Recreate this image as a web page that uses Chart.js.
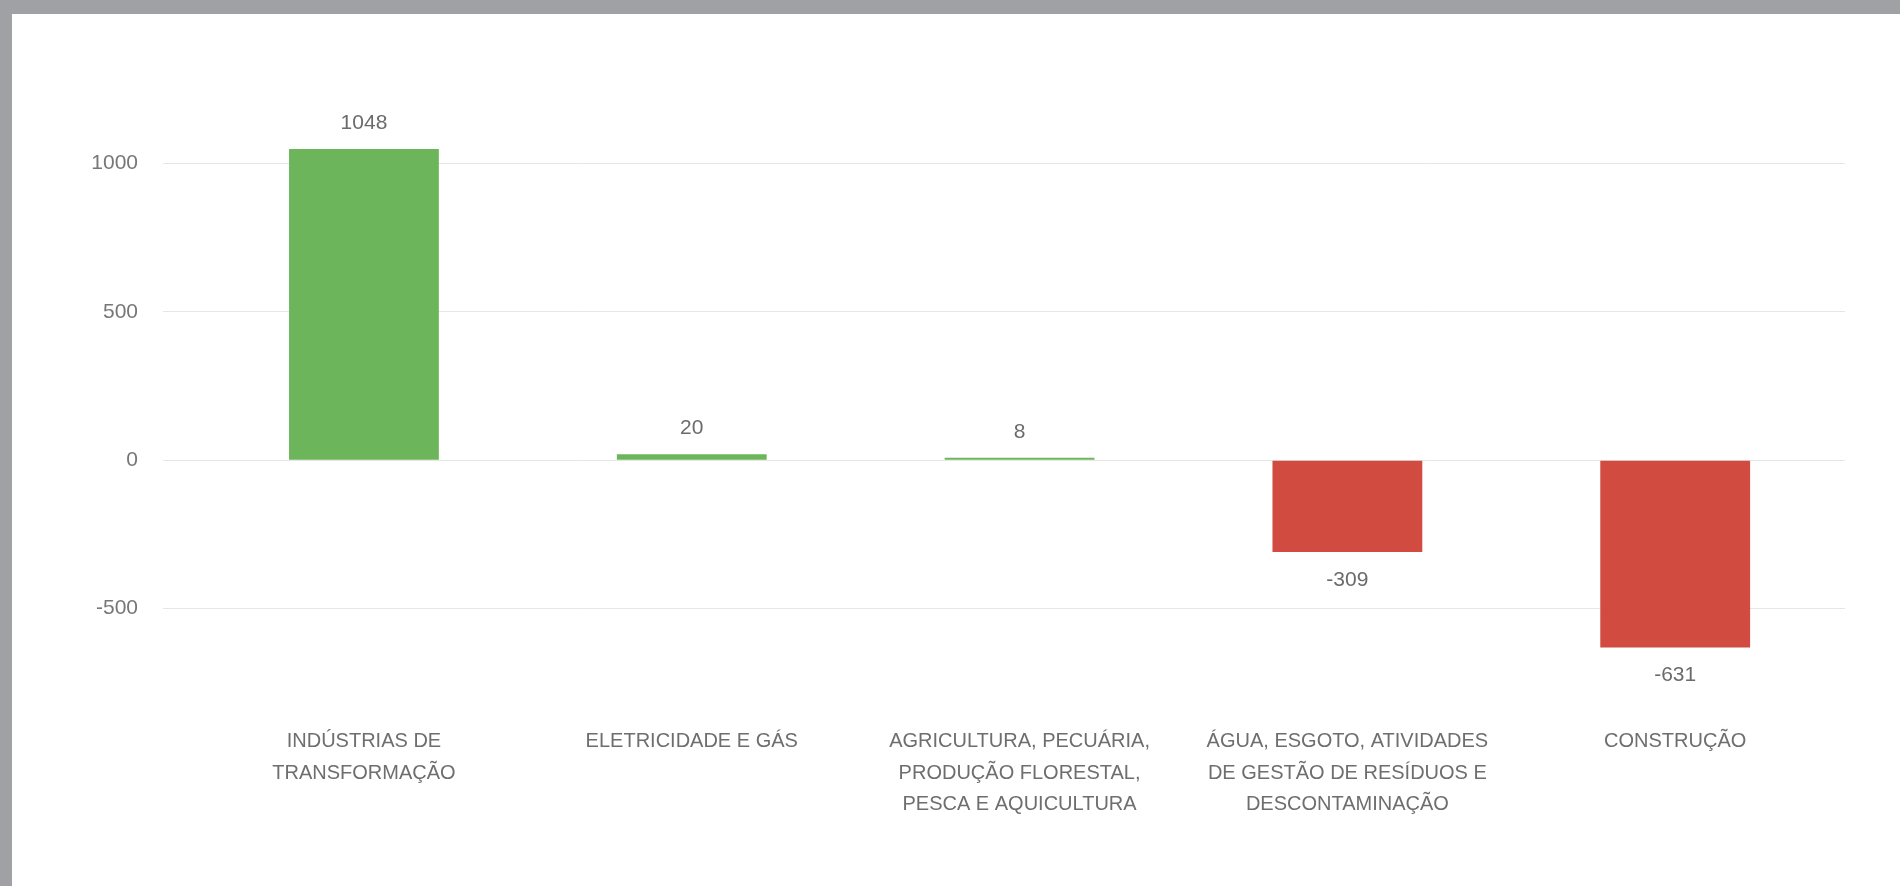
<!DOCTYPE html>
<html>
<head>
<meta charset="utf-8">
<script src="https://cdn.jsdelivr.net/npm/chart.js@4.4.0/dist/chart.umd.min.js"></script>
<style>
  html, body { margin: 0; padding: 0; width: 1900px; height: 886px; overflow: hidden; background: #a0a1a5; }
  #panel { position: absolute; left: 12px; top: 14px; width: 1888px; height: 872px; background: #fff; }
</style>
</head>
<body>
<div id="panel"><canvas id="chart"></canvas></div>
<script>
const categories = [
  ["INDÚSTRIAS DE", "TRANSFORMAÇÃO"],
  ["ELETRICIDADE E GÁS"],
  ["AGRICULTURA, PECUÁRIA,", "PRODUÇÃO FLORESTAL,", "PESCA E AQUICULTURA"],
  ["ÁGUA, ESGOTO, ATIVIDADES", "DE GESTÃO DE RESÍDUOS E", "DESCONTAMINAÇÃO"],
  ["CONSTRUÇÃO"],
];
const saldo = [1048, 20, 8, -309, -631];
const yTicks = [-500, 0, 500, 1000];

const fontFamily = "'Liberation Sans', 'DejaVu Sans', sans-serif";

// values written above / below each bar
const valueLabels = {
  id: "valueLabels",
  afterDatasetsDraw(chart) {
    const ctx = chart.ctx;
    const meta = chart.getDatasetMeta(0);
    ctx.save();
    ctx.font = "21px " + fontFamily;
    ctx.fillStyle = "#6b6b6b";
    ctx.textAlign = "center";
    ctx.textBaseline = "middle";
    meta.data.forEach((bar, i) => {
      const v = saldo[i];
      const y = v >= 0 ? bar.y - 26 : bar.y + 28;
      ctx.fillText(String(v), bar.x, y);
    });
    ctx.restore();
  },
};

new Chart(document.getElementById("chart"), {
  type: "bar",
  data: {
    datasets: [
      {
        data: saldo.map((v, i) => ({ x: i, y: v })),
        backgroundColor: saldo.map((v) => (v >= 0 ? "#6db55b" : "#d24b40")),
        barPercentage: 0.457,
        categoryPercentage: 1,
      },
    ],
  },
  options: {
    responsive: true,
    maintainAspectRatio: false,
    animation: false,
    layout: { padding: { top: 90, right: 55, bottom: 0, left: 0 } },
    plugins: { legend: { display: false }, tooltip: { enabled: false } },
    scales: {
      x: {
        type: "linear",
        offset: false,
        min: -0.613,
        max: 4.518,
        grid: { display: false, drawTicks: false },
        border: { display: false },
        afterBuildTicks: (axis) => {
          axis.ticks = categories.map((c, i) => ({ value: i }));
        },
        afterFit: (axis) => {
          axis.height = 218;
        },
        ticks: {
          autoSkip: false,
          maxRotation: 0,
          padding: 58,
          color: "#6e6e6e",
          font: { family: fontFamily, size: 20, lineHeight: 1.575 },
          callback: (v) => categories[v],
        },
      },
      y: {
        min: -700,
        max: 1200,
        afterBuildTicks: (axis) => {
          axis.ticks = yTicks.map((v) => ({ value: v }));
        },
        afterFit: (axis) => {
          axis.width = 151;
        },
        grid: { color: "#e6e6e6", drawTicks: false, lineWidth: 1 },
        border: { display: false },
        ticks: {
          padding: 25,
          color: "#777777",
          font: { family: fontFamily, size: 21 },
          callback: (v) => String(v),
        },
      },
    },
  },
  plugins: [valueLabels],
});
</script>
</body>
</html>
